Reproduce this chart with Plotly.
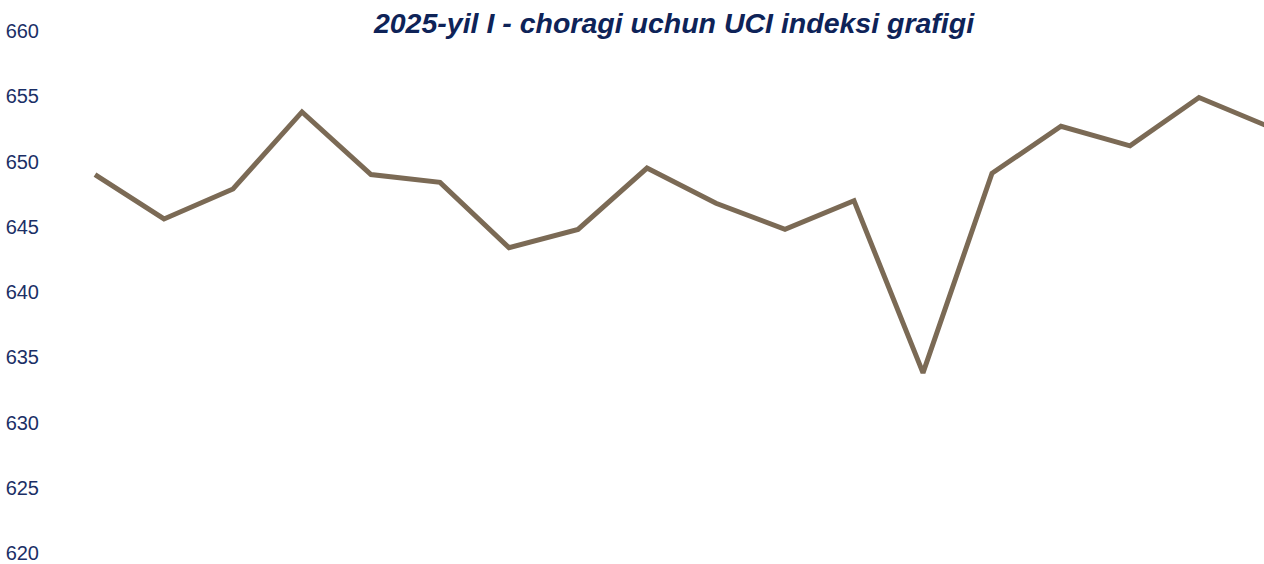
import plotly.graph_objects as go

# Data
points = list(range(1, 19))
uci_values = [649.0, 645.6, 647.9, 653.8, 649.0, 648.4, 643.4, 644.8, 649.5,
              646.8, 644.8, 647.0, 633.8, 649.1, 652.7, 651.2, 654.9, 652.7]
y_ticks = [620, 625, 630, 635, 640, 645, 650, 655, 660]
title_text = "2025-yil I - choragi uchun UCI indeksi grafigi"

W, H = 1264, 564
left, top, bottom = 40, 31, 0
step = 69.0
first_px = 95
x0 = 1 - (first_px - left) / step
x1 = x0 + (W - left) / step

px_per_unit = (555 - 31) / 40.0
y_low = 660 - (H - top - bottom) / px_per_unit

fig = go.Figure()
fig.add_trace(go.Scatter(
    x=points, y=uci_values, mode="lines",
    line=dict(color="#7B6A55", width=5, shape="linear"),
    hoverinfo="x+y",
))

fig.update_layout(
    width=W, height=H,
    margin=dict(l=left, r=0, t=top, b=bottom),
    plot_bgcolor="white", paper_bgcolor="white",
    showlegend=False,
    title=dict(
        text="<b><i>" + title_text + "</i></b>",
        font=dict(family="Liberation Sans, Arial", size=28.5, color="#0E2358"),
        x=674 / W, xanchor="center", xref="container",
        y=1 - 23 / H, yanchor="middle", yref="container",
    ),
    xaxis=dict(range=[x0, x1], showgrid=False, zeroline=False, showline=False,
               showticklabels=False, ticks=""),
    yaxis=dict(range=[y_low, 660], tickvals=y_ticks, showgrid=False, zeroline=False,
               showline=False, ticks="", ticklabeloverflow="allow",
               tickfont=dict(family="Liberation Sans, Arial", size=20, color="#1B2F66")),
)

fig.write_html("out.html")
